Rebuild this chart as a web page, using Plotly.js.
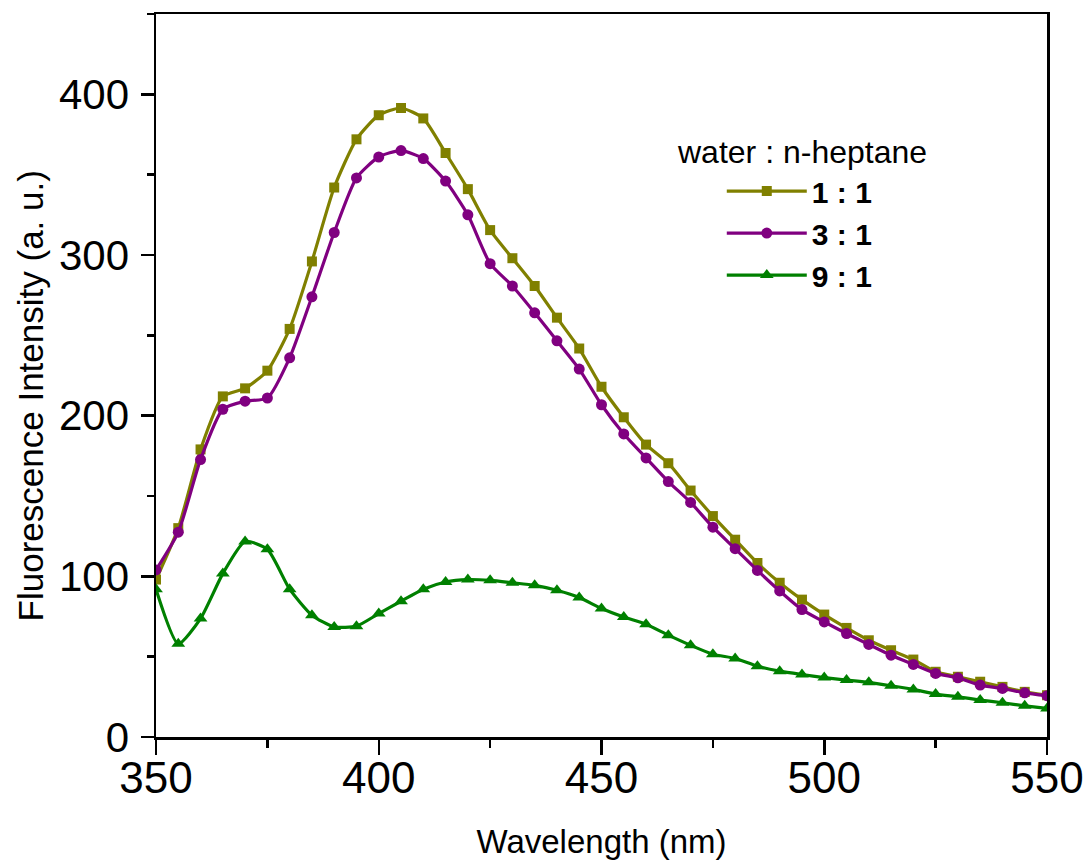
<!DOCTYPE html>
<html>
<head>
<meta charset="utf-8">
<script src="https://cdn.plot.ly/plotly-3.0.1.min.js"></script>
<style>
  html, body { margin: 0; padding: 0; background: #ffffff; }
  #chart { width: 1084px; height: 860px; }
</style>
</head>
<body>
<div id="chart"></div>
<script>
// Wavelength (nm), every 5 nm
const wavelength = [350,355,360,365,370,375,380,385,390,395,400,405,410,415,420,425,430,435,440,445,450,455,460,465,470,475,480,485,490,495,500,505,510,515,520,525,530,535,540,545,550];

// water : n-heptane = 1 : 1
const ratio_1_1 = [98,130,179,212,217,228,254,296,342,372,387,391.5,385,363.5,341,315.5,298,280.7,261,241.8,218,199,182,170.4,153.4,137.5,122.8,108.3,96,85.5,76.2,67.9,60.2,54,48.2,40.6,37.5,34.4,31.2,28.1,26];

// water : n-heptane = 3 : 1
const ratio_3_1 = [104,127.5,172.7,204,209,211,236,274,314,348,361,365,360,346,325,294.6,280.7,264,246.6,229,206.8,188.6,173.7,159,146,130.6,117.2,103.7,90.9,79.3,71.6,64.4,57.6,50.9,45.2,39.6,36.8,32.3,30.2,27.5,25.7];

// water : n-heptane = 9 : 1
const ratio_9_1 = [92,58,73.7,101.7,121.7,116.8,92,75.8,68.5,69,76.8,84.5,92,96.5,98,97.5,96,94.4,91.3,86.8,80,74.7,70.2,63.4,57.1,51.5,48.9,44.1,41,38.9,37,35.4,34,31.9,29.6,26.7,25,23,21.3,19.4,17.8];

const seriesNames = ['1 : 1', '3 : 1', '9 : 1'];
const legendTitle = 'water : n-heptane';
const xTitle = 'Wavelength (nm)';
const yTitle = 'Fluorescence Intensity (a. u.)';

const colors = ['#808000', '#800080', '#008000'];
const symbols = ['square', 'circle', 'triangle-up'];
const sizes = [10, 11, 12];
const ys = [ratio_1_1, ratio_3_1, ratio_9_1];

const traces = ys.map((y, i) => ({
  x: wavelength,
  y: y,
  name: seriesNames[i],
  type: 'scatter',
  mode: 'lines+markers',
  line: { color: colors[i], width: 3.2, shape: 'spline', smoothing: 0.6 },
  marker: { color: colors[i], symbol: symbols[i], size: sizes[i] }
}));

const axisFont = 'Arial, "Liberation Sans", Helvetica, sans-serif';

const layout = {
  width: 1084,
  height: 860,
  paper_bgcolor: '#ffffff',
  plot_bgcolor: '#ffffff',
  margin: { l: 156, r: 37, t: 14, b: 123 },
  font: { family: axisFont, color: '#000000' },
  showlegend: true,
  legend: {
    x: 0.635, xanchor: 'left',
    y: 0.791, yanchor: 'top',
    bgcolor: 'rgba(0,0,0,0)',
    borderwidth: 0,
    tracegroupgap: 0,
    itemwidth: 80,
    font: { size: 30, family: axisFont, color: '#000', weight: 'bold' }
  },
  annotations: [{
    text: legendTitle,
    xref: 'paper', yref: 'paper',
    x: 0.583, xanchor: 'left',
    y: 0.809, yanchor: 'middle',
    showarrow: false,
    font: { size: 32, family: axisFont, color: '#000' }
  }, {
    text: yTitle,
    xref: 'paper', yref: 'paper',
    x: -0.141, xanchor: 'center',
    y: 0.4716, yanchor: 'middle',
    textangle: -90,
    showarrow: false,
    font: { size: 35, family: axisFont, color: '#000' }
  }],
  xaxis: {
    range: [350, 550],
    tickmode: 'linear', tick0: 350, dtick: 50,
    ticks: 'outside', ticklen: 15, tickwidth: 2.5, tickcolor: '#000',
    minor: { dtick: 25, ticks: 'outside', ticklen: 8, tickwidth: 2.5, tickcolor: '#000' },
    showline: true, linecolor: '#000', linewidth: 2.5, mirror: true,
    showgrid: false, zeroline: false,
    tickfont: { size: 44, family: axisFont, color: '#000' },
    ticklabelstandoff: -14,
    automargin: false,
    title: { text: xTitle, font: { size: 33, family: axisFont, color: '#000' }, standoff: 40 }
  },
  yaxis: {
    range: [0, 450],
    tickmode: 'linear', tick0: 0, dtick: 100,
    ticks: 'outside', ticklen: 13, tickwidth: 2.5, tickcolor: '#000',
    minor: { dtick: 50, ticks: 'outside', ticklen: 7, tickwidth: 2.5, tickcolor: '#000' },
    showline: true, linecolor: '#000', linewidth: 2.5, mirror: true,
    showgrid: false, zeroline: false,
    tickfont: { size: 42, family: axisFont, color: '#000' },
    ticklabelstandoff: 3,
    automargin: false
  }
};

Plotly.newPlot('chart', traces, layout, { displayModeBar: false, staticPlot: true });
</script>
</body>
</html>
